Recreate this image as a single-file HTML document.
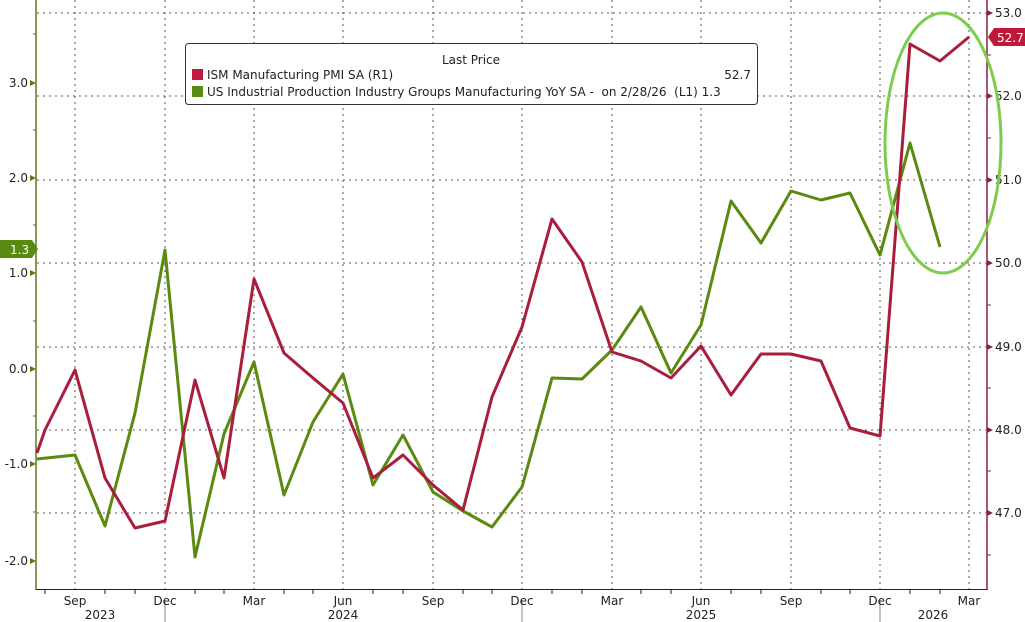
<!DOCTYPE html>
<html><head><meta charset="utf-8"><style>
html,body{margin:0;padding:0;background:#fff;width:1025px;height:622px;overflow:hidden}
text{font-family:"DejaVu Sans","Liberation Sans",sans-serif;font-size:12px;fill:#222}
</style></head><body>
<svg width="1025" height="622" viewBox="0 0 1025 622" xmlns="http://www.w3.org/2000/svg">
<rect width="1025" height="622" fill="#fff"/>
<g stroke="#555" stroke-width="1" stroke-dasharray="2,4">
<line x1="37" x2="986" y1="13" y2="13"/><line x1="37" x2="986" y1="96" y2="96"/>
<line x1="37" x2="986" y1="180" y2="180"/><line x1="37" x2="986" y1="263" y2="263"/>
<line x1="37" x2="986" y1="347" y2="347"/><line x1="37" x2="986" y1="430" y2="430"/>
<line x1="37" x2="986" y1="513" y2="513"/>
<line x1="75" x2="75" y1="0" y2="589"/><line x1="165" x2="165" y1="0" y2="589"/>
<line x1="254" x2="254" y1="0" y2="589"/><line x1="343" x2="343" y1="0" y2="589"/>
<line x1="433" x2="433" y1="0" y2="589"/><line x1="522" x2="522" y1="0" y2="589"/>
<line x1="612" x2="612" y1="0" y2="589"/><line x1="701" x2="701" y1="0" y2="589"/>
<line x1="791" x2="791" y1="0" y2="589"/><line x1="880" x2="880" y1="0" y2="589"/>
<line x1="969" x2="969" y1="0" y2="589"/>
</g>
<!-- axes -->
<line x1="36" y1="0" x2="36" y2="590" stroke="#5a7a1a" stroke-width="1.5"/>
<line x1="987" y1="0" x2="987" y2="590" stroke="#8a2040" stroke-width="1.5"/>
<line x1="36" y1="589.5" x2="987" y2="589.5" stroke="#222" stroke-width="1"/>
<g stroke="#222">
<line x1="45" x2="45" y1="589" y2="594"/><line x1="105" x2="105" y1="589" y2="594"/><line x1="135" x2="135" y1="589" y2="594"/>
<line x1="195" x2="195" y1="589" y2="594"/><line x1="224" x2="224" y1="589" y2="594"/><line x1="284" x2="284" y1="589" y2="594"/>
<line x1="313" x2="313" y1="589" y2="594"/><line x1="373" x2="373" y1="589" y2="594"/><line x1="403" x2="403" y1="589" y2="594"/>
<line x1="463" x2="463" y1="589" y2="594"/><line x1="492" x2="492" y1="589" y2="594"/><line x1="552" x2="552" y1="589" y2="594"/>
<line x1="582" x2="582" y1="589" y2="594"/><line x1="641" x2="641" y1="589" y2="594"/><line x1="671" x2="671" y1="589" y2="594"/>
<line x1="731" x2="731" y1="589" y2="594"/><line x1="761" x2="761" y1="589" y2="594"/><line x1="821" x2="821" y1="589" y2="594"/>
<line x1="850" x2="850" y1="589" y2="594"/><line x1="910" x2="910" y1="589" y2="594"/><line x1="940" x2="940" y1="589" y2="594"/>
</g>
<g stroke="#888"><line x1="165" x2="165" y1="600" y2="622"/><line x1="522" x2="522" y1="600" y2="622"/><line x1="880" x2="880" y1="600" y2="622"/></g>
<g text-anchor="middle">
<text x="75" y="605">Sep</text><text x="165" y="605">Dec</text><text x="254" y="605">Mar</text>
<text x="343" y="605">Jun</text><text x="433" y="605">Sep</text><text x="522" y="605">Dec</text>
<text x="612" y="605">Mar</text><text x="701" y="605">Jun</text><text x="791" y="605">Sep</text>
<text x="880" y="605">Dec</text><text x="969" y="605">Mar</text>
<text x="100" y="619">2023</text><text x="343" y="619">2024</text><text x="701" y="619">2025</text><text x="933" y="619">2026</text>
</g>
<!-- left ticks -->
<g fill="#5a7a1a">
<polygon points="30,80 36,83 30,86"/><polygon points="30,175 36,178 30,181"/><polygon points="30,270 36,273 30,276"/>
<polygon points="30,366 36,369 30,372"/><polygon points="30,461 36,464 30,467"/><polygon points="30,558 36,561 30,564"/>
</g>
<g stroke="#5a7a1a"><line x1="33" x2="36" y1="34" y2="34"/><line x1="33" x2="36" y1="130" y2="130"/><line x1="33" x2="36" y1="225" y2="225"/><line x1="33" x2="36" y1="321" y2="321"/><line x1="33" x2="36" y1="416" y2="416"/><line x1="33" x2="36" y1="512" y2="512"/></g>
<g text-anchor="end">
<text x="28" y="87">3.0</text><text x="28" y="182">2.0</text><text x="28" y="277">1.0</text>
<text x="28" y="373">0.0</text><text x="28" y="468">-1.0</text><text x="28" y="565">-2.0</text>
</g>
<!-- right ticks -->
<g fill="#8a2040">
<polygon points="987,10 993,13 987,16"/><polygon points="987,93 993,96 987,99"/><polygon points="987,177 993,180 987,183"/>
<polygon points="987,260 993,263 987,266"/><polygon points="987,344 993,347 987,350"/><polygon points="987,427 993,430 987,433"/>
<polygon points="987,510 993,513 987,516"/>
</g>
<g stroke="#8a2040"><line x1="987" x2="991" y1="55" y2="55"/><line x1="987" x2="991" y1="138" y2="138"/><line x1="987" x2="991" y1="221" y2="221"/><line x1="987" x2="991" y1="305" y2="305"/><line x1="987" x2="991" y1="388" y2="388"/><line x1="987" x2="991" y1="471" y2="471"/><line x1="987" x2="991" y1="555" y2="555"/></g>
<g>
<text x="995" y="17">53.0</text><text x="995" y="100">52.0</text><text x="995" y="184">51.0</text>
<text x="995" y="267">50.0</text><text x="995" y="351">49.0</text><text x="995" y="434">48.0</text><text x="995" y="517">47.0</text>
</g>
<!-- series -->
<polyline fill="none" stroke="#5a8a10" stroke-width="3" stroke-linejoin="round" points="37,459 75,455 105,526 135,413 165,250 195,557 224,434 254,362 284,495 313,422 343,374 373,485 403,435 433,492 463,511 492,527 522,487 552,378 582,379 612,350 641,307 671,373 701,325 731,201 761,243 791,191 821,200 850,193 880,255 910,143 940,247"/>
<polyline fill="none" stroke="#a81e3c" stroke-width="3" stroke-linejoin="round" points="37,453 45,430 75,370 105,478 135,528 165,521 195,380 224,478 254,279 284,353 313,378 343,403 373,478 403,455 433,485 463,510 492,397 522,327 552,219 582,262 612,352 641,361 671,378 701,346 731,395 761,354 791,354 821,361 850,428 880,436 910,44 940,61 969,37"/>
<ellipse cx="943" cy="143" rx="58" ry="130" fill="none" stroke="#7dcc50" stroke-width="3"/>
<!-- last value labels -->
<polygon points="0,240 32,240 38,249 32,258 0,258" fill="#5a8a10"/>
<text x="10" y="254" style="fill:#fff">1.3</text>
<polygon points="988,37 994,28 1025,28 1025,46 994,46" fill="#c0183a"/>
<text x="997" y="42" style="fill:#fff">52.7</text>
<!-- legend -->
<rect x="185.5" y="43.5" width="572" height="61" rx="3" fill="#fff" stroke="#333"/>
<text x="471" y="64" text-anchor="middle">Last Price</text>
<rect x="192" y="69" width="11" height="11" fill="#c0183a"/>
<text x="207" y="79">ISM Manufacturing PMI SA  (R1)</text>
<text x="751" y="79" text-anchor="end">52.7</text>
<rect x="192" y="86" width="11" height="11" fill="#5a8a10"/>
<text x="207" y="96" xml:space="preserve">US Industrial Production Industry Groups Manufacturing YoY SA -  on 2/28/26  (L1) 1.3</text>
</svg>
</body></html>
